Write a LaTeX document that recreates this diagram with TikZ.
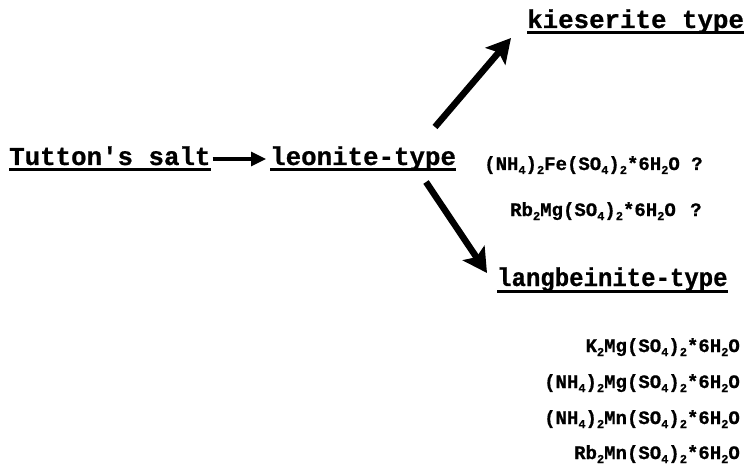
\documentclass[tikz,border=0pt]{standalone}
\usepackage{fontspec}
\setmainfont{Liberation Mono}[FakeBold=0.8]
\usetikzlibrary{arrows.meta,calc}
\newcommand{\sbs}[1]{\raisebox{-4pt}{\fontsize{12}{12}\selectfont\bfseries #1}}
\begin{document}
\begin{tikzpicture}[x=1pt,y=1pt,
 lbl/.style={inner sep=0pt, anchor=base west, font=\fontsize{25.8}{30}\selectfont\bfseries},
 fml/.style={inner sep=0pt, font=\fontsize{19}{22}\selectfont\bfseries},
 uline/.style={line width=3pt},
 bigarrow/.style={line width=6.5pt, -{Stealth[length=24pt,width=26pt,inset=5pt]}},
 smallarrow/.style={line width=3.2pt, -{Triangle[length=15pt,width=14pt]}}]
\useasboundingbox (0,0) rectangle (744,472);
\node[lbl] (tut) at (9,307) {Tutton\textquotesingle s salt};
\node[lbl] (leo) at (270,307) {leonite-type};
\node[lbl] (kie) at (527,444) {kieserite type};
\node[lbl] (lang) at (497,186) {\scalebox{0.93}[1]{langbeinite-type}};
\foreach \n in {tut,leo,kie,lang}
  \draw[uline] ($(\n.base west)+(0,-5)$) -- ($(\n.base east)+(0,-5)$);
\draw[smallarrow] ($(tut.base east)+(2,6)$) -- ($(leo.base west)+(-4,6)$);
\coordinate (u1) at (435,345);
\coordinate (u2) at (511,434);
\draw[bigarrow] (u1) -- (u2);
\coordinate (d1) at (426,290);
\coordinate (d2) at (487,199);
\draw[bigarrow] (d1) -- (d2);
\node[fml, anchor=base west] (f1) at (484,302) {(NH\sbs{4})\sbs{2}Fe(SO\sbs{4})\sbs{2}*6H\sbs{2}O\ ?};
\node[fml, anchor=base west] (f2) at (510,256) {Rb\sbs{2}Mg(SO\sbs{4})\sbs{2}*6H\sbs{2}O\ \hspace{3pt}?};
\node[fml, anchor=base east] (f3) at (740,120) {K\sbs{2}Mg(SO\sbs{4})\sbs{2}*6H\sbs{2}O};
\node[fml, anchor=base east] (f4) at (740,84) {(NH\sbs{4})\sbs{2}Mg(SO\sbs{4})\sbs{2}*6H\sbs{2}O};
\node[fml, anchor=base east] (f5) at (740,48) {(NH\sbs{4})\sbs{2}Mn(SO\sbs{4})\sbs{2}*6H\sbs{2}O};
\node[fml, anchor=base east] (f6) at (740,13) {Rb\sbs{2}Mn(SO\sbs{4})\sbs{2}*6H\sbs{2}O};
\end{tikzpicture}
\end{document}
